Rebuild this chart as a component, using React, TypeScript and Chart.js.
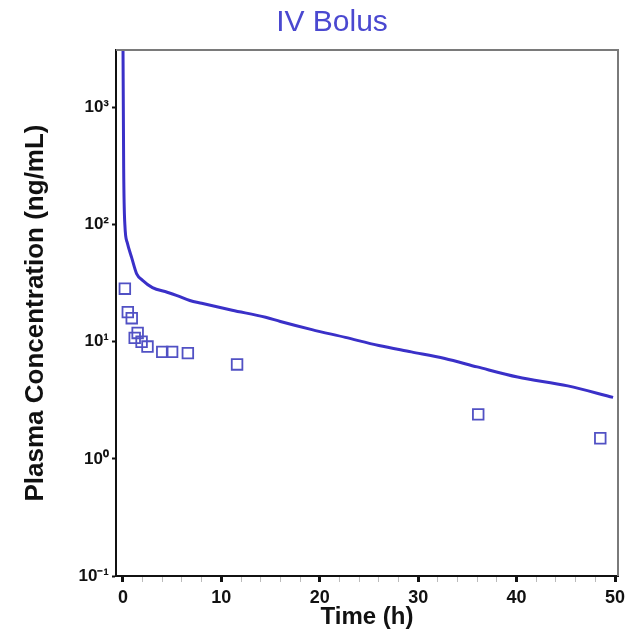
import React, { useEffect, useRef } from 'react';
import { Chart, registerables } from 'chart.js';

Chart.register(...registerables);

// Model curve (simulated plasma concentration)
const lineTimes = [0, 0.08, 0.2, 0.45, 0.9, 1.4, 2.0, 3.0, 4.5, 5.5, 6.8, 8, 11.1, 14.5, 16, 19.2, 22.6, 26, 29.3, 32.7, 36, 40.1, 45.2, 49.8];
const lineConc = [5000, 300, 100, 70, 52, 38, 33.5, 29, 26.5, 24.8, 22.5, 21.3, 18.6, 16.2, 14.9, 12.7, 10.9, 9.3, 8.2, 7.2, 6.1, 5.0, 4.2, 3.35];

// Observed concentrations
const obsTimes = [0.2, 0.5, 0.9, 1.2, 1.5, 1.9, 2.5, 4.0, 5.0, 6.6, 11.6, 36.1, 48.5];
const obsConc = [28.4, 17.9, 15.9, 10.8, 11.9, 10.0, 9.1, 8.2, 8.2, 8.0, 6.4, 2.4, 1.5];

const yTickValues = [0.1, 1, 10, 100, 1000];
const yTickLabels = ['10⁻¹', '10⁰', '10¹', '10²', '10³'];
const xTickValues = [0, 2, 4, 6, 8, 10, 12, 14, 16, 18, 20, 22, 24, 26, 28, 30, 32, 34, 36, 38, 40, 42, 44, 46, 48, 50];
const xMajorTicks = [0, 10, 20, 30, 40, 50];

const chartTitle = 'IV Bolus';
const xTitle = 'Time (h)';
const yTitle = 'Plasma Concentration (ng/mL)';

const FONT = '"Liberation Sans", Arial, Helvetica, sans-serif';

const framePlugin = {
  id: 'framePlugin',
  afterDatasetsDraw(chart: any) {
    const { ctx, chartArea } = chart;
    ctx.save();
    ctx.strokeStyle = '#7a7a7a';
    ctx.lineWidth = 2;
    ctx.beginPath();
    ctx.moveTo(chartArea.left, chartArea.top);
    ctx.lineTo(chartArea.right, chartArea.top);
    ctx.lineTo(chartArea.right, chartArea.bottom);
    ctx.stroke();
    ctx.restore();
  },
};

const titlePlugin = {
  id: 'customTitle',
  afterDraw(chart: any) {
    const { ctx } = chart;
    ctx.save();
    ctx.font = `normal 30px ${FONT}`;
    ctx.fillStyle = '#4a48d0';
    ctx.textAlign = 'center';
    ctx.textBaseline = 'middle';
    ctx.fillText(chartTitle, 332, 23);
    ctx.restore();
  },
};

export default function App() {
  const canvasRef = useRef<HTMLCanvasElement | null>(null);

  useEffect(() => {
    if (!canvasRef.current) return;
    const chart = new Chart(canvasRef.current, {
      type: 'scatter',
      data: {
        datasets: [
          {
            label: 'Model',
            data: lineTimes.map((t, i) => ({ x: t, y: lineConc[i] })),
            showLine: true,
            borderColor: '#3a30c8',
            backgroundColor: '#3a30c8',
            borderWidth: 3,
            pointRadius: 0,
            cubicInterpolationMode: 'monotone',
            fill: false,
          },
          {
            label: 'Observed',
            data: obsTimes.map((t, i) => ({ x: t, y: obsConc[i] })),
            showLine: false,
            pointStyle: 'rect',
            pointRadius: 7.5,
            pointBorderWidth: 1.8,
            borderColor: '#5151c4',
            backgroundColor: 'rgba(0,0,0,0)',
            pointBackgroundColor: 'rgba(0,0,0,0)',
          },
        ],
      },
      options: {
        animation: false,
        responsive: false,
        maintainAspectRatio: false,
        layout: { padding: { top: 50, right: 19, left: 0, bottom: 0 } },
        plugins: {
          legend: { display: false },
          tooltip: { enabled: false },
          title: { display: false },
        },
        scales: {
          x: {
            type: 'linear',
            min: -0.7,
            max: 50.3,
            afterBuildTicks: (s: any) => {
              s.ticks = xTickValues.map((v) => ({ value: v }));
            },
            afterFit: (s: any) => {
              s.height = 65;
            },
            ticks: {
              autoSkip: false,
              maxRotation: 0,
              color: '#111',
              padding: 5,
              font: { family: FONT, size: 18, weight: 'bold' },
              callback: (v: any) => (xMajorTicks.includes(Number(v)) ? String(v) : ''),
            },
            grid: {
              drawOnChartArea: false,
              tickLength: 6,
              tickWidth: (ctx: any) => (ctx.tick && xMajorTicks.includes(ctx.tick.value) ? 3 : 1),
              tickColor: (ctx: any) => (ctx.tick && xMajorTicks.includes(ctx.tick.value) ? '#111' : '#bbb'),
            },
            border: { color: '#111', width: 2 },
            title: {
              display: true,
              text: xTitle,
              color: '#111',
              font: { family: FONT, size: 24, weight: 'bold' },
              padding: { top: 0, bottom: 9 },
            },
          },
          y: {
            type: 'logarithmic',
            min: 0.1,
            max: 3100,
            afterBuildTicks: (s: any) => {
              s.ticks = yTickValues.map((v) => ({ value: v }));
            },
            afterFit: (s: any) => {
              s.width = 116;
            },
            ticks: {
              autoSkip: false,
              color: '#111',
              padding: 3,
              font: { family: FONT, size: 17, weight: 'bold' },
              callback: (v: any) => {
                const idx = yTickValues.findIndex((t) => Math.abs(t - Number(v)) < 1e-9 * Math.max(1, t));
                return idx >= 0 ? yTickLabels[idx] : '';
              },
            },
            grid: {
              drawOnChartArea: false,
              tickLength: 4,
              tickWidth: 2,
              tickColor: '#111',
            },
            border: { color: '#111', width: 2 },
            title: {
              display: true,
              text: yTitle,
              color: '#111',
              font: { family: FONT, size: 26, weight: 'bold' },
              padding: { top: 20, bottom: 0 },
            },
          },
        },
      },
      plugins: [framePlugin, titlePlugin],
    } as any);
    return () => chart.destroy();
  }, []);

  return (
    <div style={{ position: 'fixed', left: 0, top: 0, width: 637, height: 641, background: '#fff' }}>
      <canvas ref={canvasRef} width={637} height={641} style={{ display: 'block' }} />
    </div>
  );
}
